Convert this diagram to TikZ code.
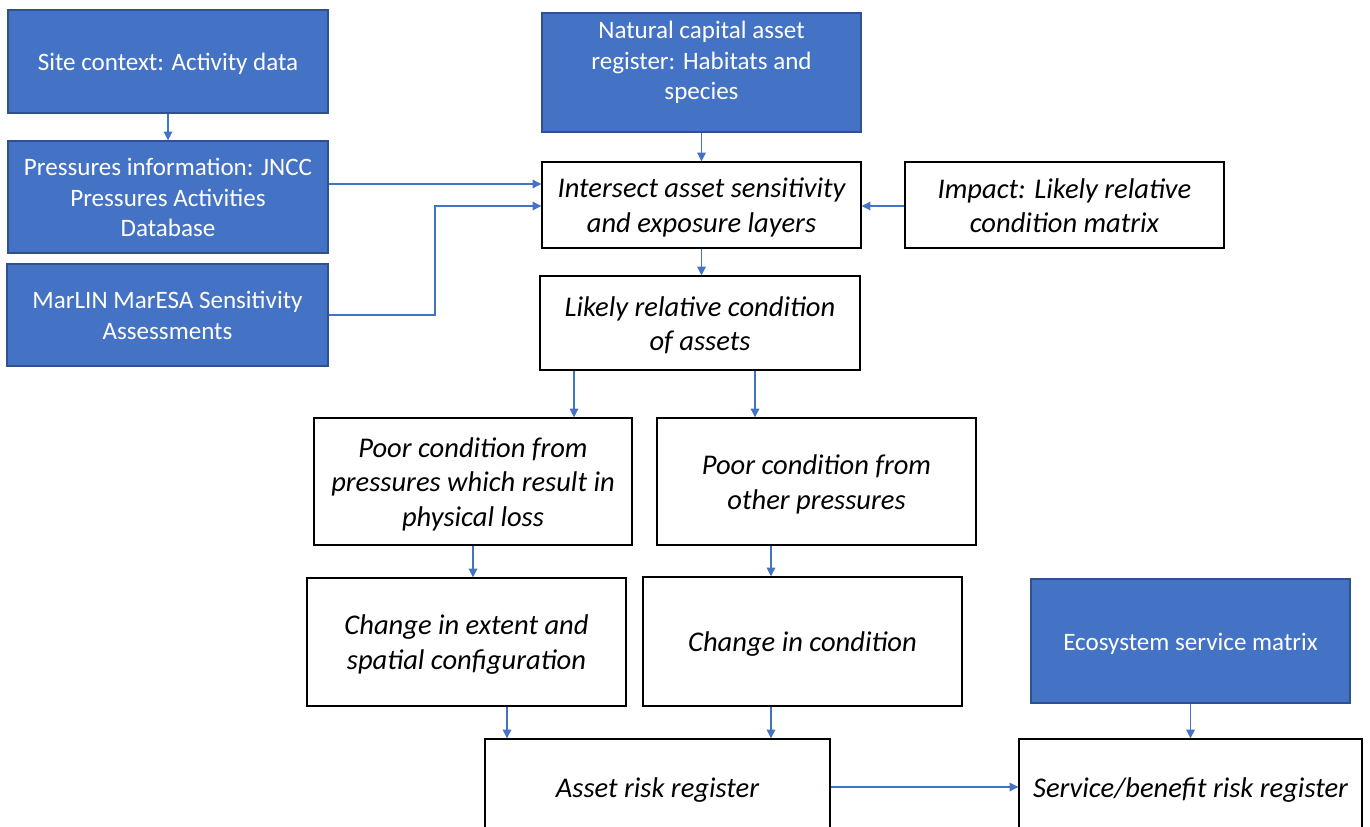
\documentclass[tikz,border=0pt]{standalone}
\usepackage{fontspec}
\setmainfont{Carlito}
\usetikzlibrary{arrows.meta}
\definecolor{accent}{HTML}{4472C4}
\definecolor{accentdark}{HTML}{2F528F}

% fixed line extent so that every label sits the same way in its box
\newcommand\linestrut{\rule[-0.15em]{0pt}{1.03em}}

% box given by its corners (x1,y1)-(x2,y2) in pixel units, y downwards
\newcommand\panel[7]{%
  \pgfmathsetmacro\pw{(#4-#2)*0.75}%
  \pgfmathsetmacro\ph{(#5-#3)*0.75}%
  \node[#6, minimum width=\pw pt, minimum height=\ph pt] (#1) at ({(#2+#4)/2},{(#3+#5)/2})
    {\linestrut#7\linestrut};}

\tikzset{
  bluebox/.style={rectangle, fill=accent, draw=accentdark, line width=1.1pt, text=white,
    align=center, inner sep=0pt, font=\fontsize{18.8}{22.9}\selectfont},
  whitebox/.style={rectangle, fill=white, draw=black, line width=1.1pt, text=black,
    align=center, inner sep=0pt, font=\fontsize{21.4}{25.9}\selectfont\itshape},
  flow/.style={draw=accent, line width=0.8pt, -{Triangle[length=6.5pt,width=6.5pt]}}
}

\begin{document}
\begin{tikzpicture}[x=0.75pt,y=-0.75pt]
\useasboundingbox (0,0) rectangle (1370,827);
\clip (0,0) rectangle (1370,827);
\fill[white] (0,0) rectangle (1370,827);

% inputs
\panel{site}{8}{10}{328}{113}{bluebox}{Site context: Activity data}
\panel{press}{8}{141}{328}{253}{bluebox}{Pressures information: JNCC\\Pressures Activities\\Database}
\panel{marlin}{7}{264}{328}{366}{bluebox}{MarLIN MarESA Sensitivity\\Assessments}
\panel{nat}{542}{13}{861}{132}{bluebox}{Natural capital asset\\register: Habitats and\\species\rule[-21.75pt]{0pt}{0pt}}
\panel{eco}{1031}{579}{1350}{703}{bluebox}{Ecosystem service matrix}

% processing chain
\panel{inter}{542}{162}{861}{248}{whitebox}{Intersect asset sensitivity\\and exposure layers}
\panel{impact}{905}{162}{1224}{248}{whitebox}{Impact: Likely relative\\condition matrix}
\panel{likely}{540}{276}{860}{370}{whitebox}{Likely relative condition\\of assets}
\panel{poorloss}{314}{418}{632}{545}{whitebox}{Poor condition from\\pressures which result in\\physical loss}
\panel{poorother}{657}{418}{976}{545}{whitebox}{Poor condition from\\other pressures}
\panel{extent}{307}{578}{626}{706}{whitebox}{Change in extent and\\spatial configuration}
\panel{cond}{643}{577}{962}{706}{whitebox}{Change in condition}
\panel{asset}{485}{739}{830}{835}{whitebox}{Asset risk register}
\panel{service}{1019}{739}{1362}{835}{whitebox}{Service/benefit risk register}

% connectors
\coordinate (bend) at (435,206);
\draw[flow] (site.south) -- (press.north);
\draw[flow] (press.east |- 0,184) -- (inter.west |- 0,184);
\draw[flow] (marlin.east) -| (bend) -- (inter.west |- bend);
\draw[flow] (nat.south) -- (inter.north);
\draw[flow] (impact.west |- bend) -- (inter.east |- bend);
\draw[flow] (inter.south) -- (inter.south |- likely.north);
\draw[flow] (likely.south -| 574,0) -- (poorloss.north -| 574,0);
\draw[flow] (likely.south -| 755,0) -- (poorother.north -| 755,0);
\draw[flow] (poorloss.south) -- (poorloss.south |- extent.north);
\draw[flow] (poorother.south -| 771,0) -- (cond.north -| 771,0);
\draw[flow] (extent.south -| 507,0) -- (asset.north -| 507,0);
\draw[flow] (cond.south -| 771,0) -- (asset.north -| 771,0);
\draw[flow] (asset.east) -- (service.west);
\draw[flow] (eco.south) -- (service.north);
\end{tikzpicture}
\end{document}
